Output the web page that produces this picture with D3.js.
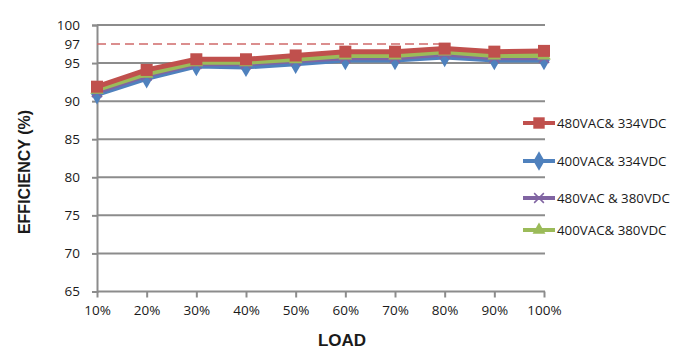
<!DOCTYPE html>
<html><head><meta charset="utf-8">
<script src="https://cdn.jsdelivr.net/npm/d3@7"></script>
<style>body{margin:0;background:#fff}svg{display:block}</style>
</head><body>
<script>
const categories = ["10%","20%","30%","40%","50%","60%","70%","80%","90%","100%"];
const red480_334  = [91.9, 94.1, 95.5, 95.5, 96.0, 96.5, 96.5, 96.9, 96.5, 96.6];
const blue400_334 = [90.9, 93.0, 94.6, 94.5, 94.9, 95.4, 95.4, 95.8, 95.4, 95.4];
const purple480_380 = [91.2, 93.4, 94.9, 94.9, 95.3, 95.7, 95.7, 96.2, 95.7, 95.7];
const green400_380 = [91.5, 93.6, 95.1, 95.1, 95.5, 96.0, 96.0, 96.5, 96.0, 96.0];
const seriesNames = ["480VAC& 334VDC","400VAC& 334VDC","480VAC & 380VDC","400VAC& 380VDC"];
const yTicks = [65,70,75,80,85,90,95,100];
const refValue = 97.5;
const refLabel = "97";

const W=682,H=353;
const svg=d3.select("body").append("svg").attr("width",W).attr("height",H);
const x=d3.scalePoint().domain(categories).range([97,544]);
const y=d3.scaleLinear().domain([65,100]).range([291.5,25]);
const font="'Open Sans', 'DejaVu Sans', sans-serif";
const grid="#8c8c8c";

// gridlines
svg.append("g").selectAll("line").data(yTicks.filter(d=>d>65)).join("line")
  .attr("x1",97).attr("x2",545).attr("y1",d=>y(d)).attr("y2",d=>y(d))
  .attr("stroke",grid).attr("stroke-width",2);

// y axis
const ya=svg.append("g").attr("transform","translate(97,0)")
  .call(d3.axisLeft(y).tickValues(yTicks).tickSize(5).tickPadding(4).tickFormat(d3.format("d")));
ya.select(".domain").attr("stroke",grid).attr("stroke-width",2);
ya.selectAll(".tick line").attr("stroke",grid).attr("stroke-width",2);
ya.selectAll("text").attr("font-family",font).attr("font-size",13.5).attr("fill","#1a1a1a").attr("dx",-8);
// ref label
svg.append("text").attr("x",80).attr("y",y(refValue)).attr("dy","0.35em").attr("text-anchor","end")
  .attr("font-family",font).attr("font-size",13.5).attr("fill","#1a1a1a").text(refLabel);

// x axis
const xa=svg.append("g").attr("transform","translate(0,291.5)")
  .call(d3.axisBottom(x).tickSize(6).tickPadding(8));
xa.select(".domain").attr("stroke",grid).attr("stroke-width",2).attr("d","M97,0H545");
xa.selectAll(".tick line").attr("stroke",grid).attr("stroke-width",2);
xa.selectAll("text").attr("font-family",font).attr("font-size",13.5).attr("fill","#1a1a1a");

// reference dashed line
svg.append("line").attr("x1",x("10%")).attr("x2",x("80%")).attr("y1",y(refValue)).attr("y2",y(refValue))
  .attr("stroke","#d06a6a").attr("stroke-width",1.5).attr("stroke-dasharray","9,5");

const colors={red:"#c0504d",blue:"#4f81bd",purple:"#8064a2",green:"#9bbb59"};
const line=d3.line().x((d,i)=>x(categories[i])).y(d=>y(d));
const series=[
  {name:seriesNames[1],data:blue400_334,color:colors.blue,marker:"diamond"},
  {name:seriesNames[2],data:purple480_380,color:colors.purple,marker:"x"},
  {name:seriesNames[3],data:green400_380,color:colors.green,marker:"triangle"},
  {name:seriesNames[0],data:red480_334,color:colors.red,marker:"square"}
];
function marker(g,type,color,cx,cy,scale){
  scale=scale||1;
  if(type==="square") g.append("rect").attr("x",cx-6*scale).attr("y",cy-6*scale).attr("width",12*scale).attr("height",12*scale).attr("fill",color);
  else if(type==="diamond") g.append("path").attr("d",d3.symbol(d3.symbolDiamond,120*scale*scale)()).attr("transform",`translate(${cx},${cy})`).attr("fill",color);
  else if(type==="triangle") g.append("path").attr("d",d3.symbol(d3.symbolTriangle,80*scale*scale)()).attr("transform",`translate(${cx},${cy})`).attr("fill",color);
  else if(type==="x") g.append("path").attr("d",d3.symbol(d3.symbolX,70*scale*scale)()).attr("transform",`translate(${cx},${cy})`).attr("stroke",color).attr("stroke-width",1.5).attr("fill","none");
}
series.forEach(s=>{
  const g=svg.append("g");
  g.append("path").datum(s.data).attr("d",line).attr("fill","none").attr("stroke",s.color).attr("stroke-width",5).attr("stroke-linejoin","round");
  s.data.forEach((v,i)=>marker(g,s.marker,s.color,x(categories[i]),y(v)));
});

// legend
const legendOrder=[
  {name:seriesNames[0],color:colors.red,marker:"square"},
  {name:seriesNames[1],color:colors.blue,marker:"diamond"},
  {name:seriesNames[2],color:colors.purple,marker:"x"},
  {name:seriesNames[3],color:colors.green,marker:"triangle"}
];
const ly=[123,161,198,230];
legendOrder.forEach((s,i)=>{
  const g=svg.append("g");
  g.append("line").attr("x1",523).attr("x2",555).attr("y1",ly[i]).attr("y2",ly[i]).attr("stroke",s.color).attr("stroke-width",4);
  marker(g,s.marker,s.color,539,ly[i],0.95);
  g.append("text").attr("x",557).attr("y",ly[i]).attr("dy","0.35em").attr("font-family",font).attr("font-size",13.3).attr("fill","#1a1a1a").text(s.name);
});

// axis titles
svg.append("text").attr("x",342).attr("y",346).attr("text-anchor","middle")
  .attr("font-family","'Liberation Sans', Arial, sans-serif").attr("font-weight","bold").attr("font-size",17).attr("fill","#1a1a1a").text("LOAD");
svg.append("text").attr("transform","translate(30,172) rotate(-90)").attr("text-anchor","middle")
  .attr("font-family","'Liberation Sans', Arial, sans-serif").attr("font-weight","bold").attr("font-size",16).attr("fill","#1a1a1a").text("EFFICIENCY (%)");
</script>
</body></html>
